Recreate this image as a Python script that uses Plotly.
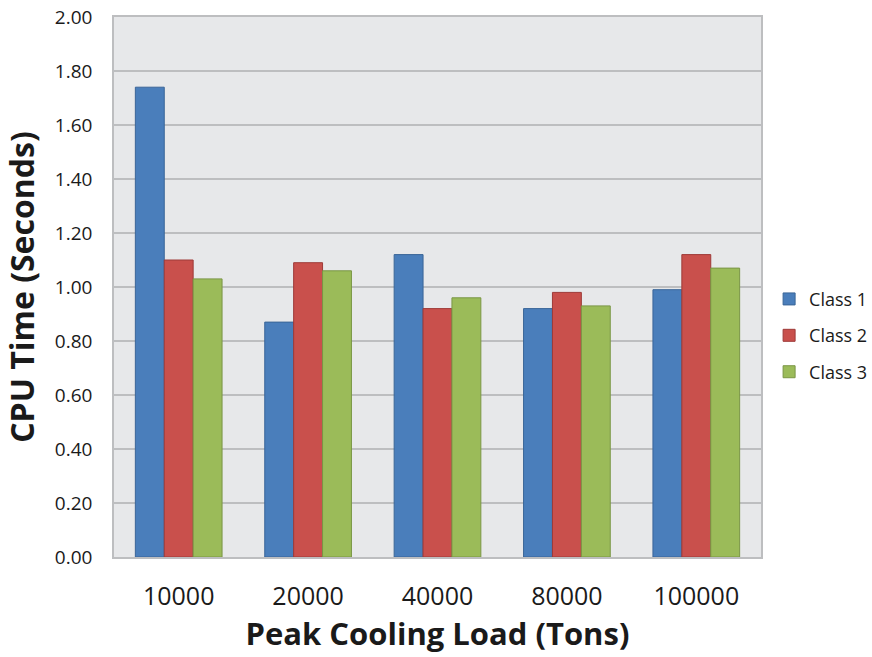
import plotly.graph_objects as go

categories = ["10000", "20000", "40000", "80000", "100000"]
class1 = [1.74, 0.87, 1.12, 0.92, 0.99]
class2 = [1.10, 1.09, 0.92, 0.98, 1.12]
class3 = [1.03, 1.06, 0.96, 0.93, 1.07]
series_names = ["Class 1", "Class 2", "Class 3"]
fills = ["#4A7EBB", "#C9504C", "#9BBB59"]
edges = ["#3A6598", "#9E3A38", "#7A9645"]

fig = go.Figure()
for name, vals, fc, ec in zip(series_names, [class1, class2, class3], fills, edges):
    fig.add_trace(go.Bar(x=categories, y=vals, name=name, legendgroup=name,
                         marker=dict(color=fc, line=dict(color=ec, width=1))))

font = "Open Sans, Liberation Sans, sans-serif"
fig.update_layout(
    width=872, height=657,
    barmode="group", bargap=0.33, bargroupgap=0,
    paper_bgcolor="white", plot_bgcolor="#E7E8EA",
    margin=dict(l=114, r=111, t=17, b=100, autoexpand=False),
    font=dict(family=font, color="#1a1a1a"),
    showlegend=True,
    legend=dict(xref="container", yref="container", x=0.882, y=0.489,
                xanchor="left", yanchor="middle", traceorder="grouped",
                font=dict(size=18, family=font, color="#1a1a1a"),
                itemwidth=30, tracegroupgap=10, bgcolor="rgba(0,0,0,0)"),
    xaxis=dict(title=dict(text="<b>Peak Cooling Load (Tons)</b>", font=dict(size=31, family=font), standoff=8),
               tickfont=dict(size=25, family=font), showgrid=False,
               showline=True, linecolor="#BDBEC0", linewidth=1.5, mirror=True, ticks="outside", ticklen=16,
               tickcolor="rgba(0,0,0,0)"),
    yaxis=dict(title=dict(text="<b>CPU Time (Seconds)</b>", font=dict(size=32, family=font), standoff=12),
               range=[0, 2.0], dtick=0.2, tickformat=".2f",
               tickfont=dict(size=19, family=font),
               showgrid=True, gridcolor="#BDBEC0", gridwidth=1.5,
               showline=True, linecolor="#BDBEC0", linewidth=1.5, mirror=True,
               ticks="outside", ticklen=16, tickcolor="rgba(0,0,0,0)", zeroline=False),
)

fig.write_html("out.html")
